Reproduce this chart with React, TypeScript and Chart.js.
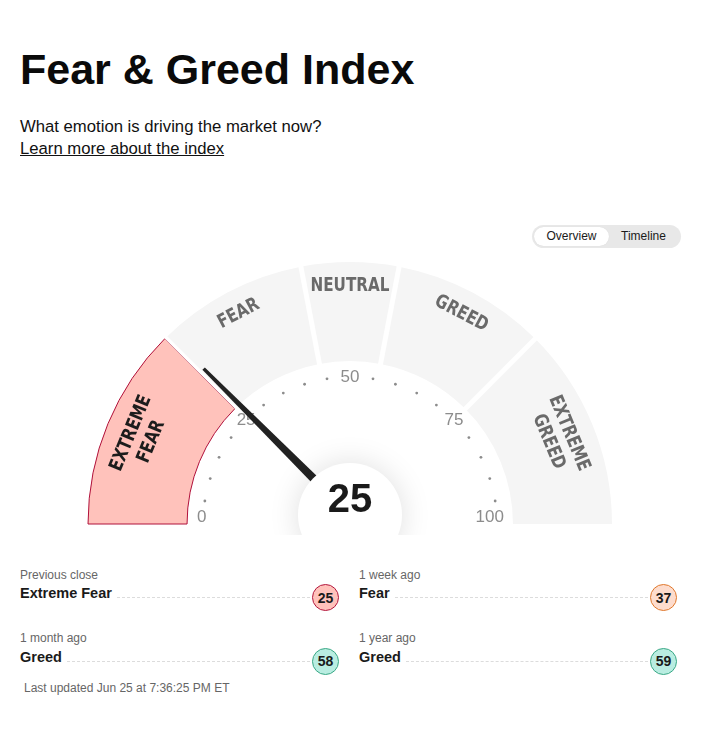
import React, { useEffect, useRef } from 'react';
import { Chart, registerables } from 'chart.js';

Chart.register(...registerables);

// ---- data ----
const ZONE_LABELS = ['EXTREME FEAR', 'FEAR', 'NEUTRAL', 'GREED', 'EXTREME GREED'];
const ZONE_SIZES = [25, 19, 12, 19, 25];
const CURRENT_VALUE = 25;
const TICK_LABELS = [0, 25, 50, 75, 100];
const TICK_DOTS = [5, 10, 15, 20, 30, 35, 40, 45, 55, 60, 65, 70, 80, 85, 90, 95];

const HISTORY_PERIODS = ['Previous close', '1 week ago', '1 month ago', '1 year ago'];
const HISTORY_RATINGS = ['Extreme Fear', 'Fear', 'Greed', 'Greed'];
const HISTORY_VALUES = [25, 37, 58, 59];
const LAST_UPDATED = 'Last updated Jun 25 at 7:36:25 PM ET';

const RATING_STYLES: Record<string, { fill: string; border: string }> = {
  'Extreme Fear': { fill: '#ffc2bb', border: '#b3173d' },
  Fear: { fill: '#fddccd', border: '#e0782c' },
  Neutral: { fill: '#e5e5e5', border: '#999999' },
  Greed: { fill: '#b9ede1', border: '#3aa886' },
  'Extreme Greed': { fill: '#8fdcc9', border: '#1f8a6a' },
};

function zoneOf(v: number): number {
  let acc = 0;
  for (let i = 0; i < ZONE_SIZES.length; i++) {
    acc += ZONE_SIZES[i];
    if (v <= acc) return i;
  }
  return ZONE_SIZES.length - 1;
}

const FONT = '"Liberation Sans", Arial, Helvetica, sans-serif';

const gaugePlugin = {
  id: 'fgGauge',
  afterDatasetsDraw(chart: any) {
    const ctx: CanvasRenderingContext2D = chart.ctx;
    const arcs = chart.getDatasetMeta(0).data;
    if (!arcs.length) return;
    const zone = zoneOf(CURRENT_VALUE);
    const cx = arcs[0].x;
    const cy = arcs[0].y;
    const R = arcs[0].outerRadius;
    const r0 = arcs[0].innerRadius;
    const toAng = (v: number) => Math.PI + (v / 100) * Math.PI;

    // white gaps between zones
    for (let i = 0; i < arcs.length - 1; i++) {
      const a = arcs[i].endAngle;
      let from = -2.5;
      let to = 2.5;
      if (i === zone) { from = 0.5; to = 3.5; }
      if (i + 1 === zone) { from = -3.5; to = -0.5; }
      ctx.save();
      ctx.translate(cx, cy);
      ctx.rotate(a);
      ctx.fillStyle = '#ffffff';
      ctx.fillRect(r0 - 2, from, R - r0 + 4, to - from);
      ctx.restore();
    }

    // zone labels
    arcs.forEach((arc: any, i: number) => {
      const mid = (arc.startAngle + arc.endAngle) / 2;
      const words = ZONE_LABELS[i].split(' ');
      const rc = words.length > 1 ? R - 36 : R - 24;
      ctx.save();
      ctx.translate(cx + rc * Math.cos(mid), cy + rc * Math.sin(mid));
      ctx.rotate(mid + Math.PI / 2);
      ctx.scale(0.8, 1);
      ctx.font = 'bold 19px "DejaVu Sans", sans-serif';
      ctx.textAlign = 'center';
      ctx.textBaseline = 'middle';
      ctx.fillStyle = i === zone ? '#1c1c1c' : '#6a6a6a';
      words.forEach((w, k) => ctx.fillText(w, 0, (k - (words.length - 1) / 2) * 22));
      ctx.restore();
    });

    // scale dots and labels
    const rt = r0 - 16;
    ctx.fillStyle = '#8c8c8c';
    TICK_DOTS.forEach((v) => {
      const a = toAng(v);
      ctx.beginPath();
      ctx.arc(cx + rt * Math.cos(a), cy + rt * Math.sin(a), 1.4, 0, Math.PI * 2);
      ctx.fill();
    });
    ctx.font = '17px ' + FONT;
    ctx.fillStyle = '#8c8c8c';
    TICK_LABELS.forEach((v, idx) => {
      const a = toAng(v);
      if (idx === 0) {
        ctx.textAlign = 'left';
        ctx.textBaseline = 'alphabetic';
        ctx.fillText(String(v), cx - rt - 6, cy - 2);
      } else if (idx === TICK_LABELS.length - 1) {
        ctx.textAlign = 'right';
        ctx.textBaseline = 'alphabetic';
        ctx.fillText(String(v), cx + rt + 7, cy - 2);
      } else {
        ctx.textAlign = 'center';
        ctx.textBaseline = 'middle';
        ctx.fillText(String(v), cx + rt * Math.cos(a), cy + rt * Math.sin(a));
      }
    });

    // needle
    const px = cx;
    const py = cy - 9;
    const na = toAng(CURRENT_VALUE);
    const len = 207;
    ctx.save();
    ctx.translate(px, py);
    ctx.rotate(na);
    ctx.beginPath();
    ctx.moveTo(0, -5);
    ctx.lineTo(len, -1.75);
    ctx.lineTo(len, 1.75);
    ctx.lineTo(0, 5);
    ctx.closePath();
    ctx.fillStyle = '#222222';
    ctx.fill();
    ctx.restore();

    // center disc
    ctx.save();
    ctx.beginPath();
    ctx.rect(0, 0, chart.width, cy + 11);
    ctx.clip();
    ctx.shadowColor = 'rgba(0,0,0,0.13)';
    ctx.shadowBlur = 30;
    ctx.beginPath();
    ctx.arc(px, py, 52, 0, Math.PI * 2);
    ctx.fillStyle = '#ffffff';
    ctx.fill();
    ctx.restore();

    ctx.save();
    ctx.font = 'bold 40px ' + FONT;
    ctx.textAlign = 'center';
    ctx.textBaseline = 'alphabetic';
    ctx.fillStyle = '#1a1a1a';
    ctx.fillText(String(CURRENT_VALUE), cx, cy - 12);
    ctx.restore();
  },
};

function Gauge() {
  const ref = useRef<HTMLCanvasElement | null>(null);
  useEffect(() => {
    if (!ref.current) return;
    const zone = zoneOf(CURRENT_VALUE);
    const chart = new Chart(ref.current, {
      type: 'doughnut',
      data: {
        labels: ZONE_LABELS,
        datasets: [
          {
            data: ZONE_SIZES,
            backgroundColor: ZONE_SIZES.map((_, i) => (i === zone ? '#ffc2bb' : '#f5f5f5')),
            borderColor: ZONE_SIZES.map((_, i) => (i === zone ? '#b0103a' : '#ffffff')),
            borderWidth: ZONE_SIZES.map((_, i) => (i === zone ? 1 : 0)),
            borderJoinStyle: 'miter',
          } as any,
        ],
      },
      options: {
        responsive: false,
        animation: false,
        events: [],
        rotation: -90,
        circumference: 180,
        radius: 262,
        cutout: '62.2%',
        layout: { padding: { top: 41, left: 0, right: 6, bottom: 0 } },
        plugins: { legend: { display: false }, tooltip: { enabled: false }, title: { display: false } },
      } as any,
      plugins: [gaugePlugin],
    });
    return () => chart.destroy();
  }, []);
  return (
    <canvas
      ref={ref}
      width={706}
      height={345}
      style={{ position: 'absolute', left: 0, top: 200, width: 706, height: 345 }}
    />
  );
}

function Stat({ idx }: { idx: number }) {
  const col = idx % 2;
  const row = Math.floor(idx / 2);
  const x = col === 0 ? 20 : 359;
  const w = col === 0 ? 319 : 318;
  const labelCy = row === 0 ? 575 : 637.7;
  const circCy = row === 0 ? 597.7 : 661;
  const rating = HISTORY_RATINGS[idx];
  const st = RATING_STYLES[rating];
  return (
    <>
      <div
        style={{
          position: 'absolute', left: x, top: labelCy - 7, fontSize: 12, lineHeight: '14px',
          color: '#666', fontFamily: FONT, whiteSpace: 'nowrap',
        }}
      >
        {HISTORY_PERIODS[idx]}
      </div>
      <div
        style={{
          position: 'absolute', left: x, top: circCy - 13.5, width: w, height: 27,
          display: 'flex', fontFamily: FONT,
        }}
      >
        <span style={{ alignSelf: 'flex-start', fontWeight: 'bold', fontSize: 14.5, lineHeight: '18px', color: '#1a1a1a', whiteSpace: 'nowrap' }}>
          {rating}
        </span>
        <div style={{ flex: 1, alignSelf: 'center', height: 0, borderTop: '1px dashed #dcdcdc', margin: '0 2px 0 5px' }} />
        <div
          style={{
            width: 27, height: 27, boxSizing: 'border-box', borderRadius: '50%',
            background: st.fill, border: '1px solid ' + st.border,
            display: 'flex', alignItems: 'center', justifyContent: 'center',
            fontWeight: 'bold', fontSize: 14, color: '#1a1a1a',
          }}
        >
          {HISTORY_VALUES[idx]}
        </div>
      </div>
    </>
  );
}

export default function App() {
  return (
    <div
      style={{
        position: 'absolute', left: 0, top: 0, width: 706, height: 732, overflow: 'hidden',
        background: '#fff', fontFamily: FONT,
      }}
    >
      <div style={{ position: 'absolute', left: 20, top: 44, fontSize: 43, lineHeight: '50px', fontWeight: 'bold', color: '#0a0a0a', whiteSpace: 'nowrap' }}>
        Fear &amp; Greed Index
      </div>
      <div style={{ position: 'absolute', left: 20, top: 116.5, fontSize: 16.7, lineHeight: '20px', color: '#111', whiteSpace: 'nowrap' }}>
        What emotion is driving the market now?
      </div>
      <div style={{ position: 'absolute', left: 20, top: 138.5, fontSize: 16.7, lineHeight: '20px', color: '#111', textDecoration: 'underline', whiteSpace: 'nowrap' }}>
        Learn more about the index
      </div>

      <div style={{ position: 'absolute', left: 532, top: 225, width: 149, height: 23, borderRadius: 12, background: '#e8e8e8' }} />
      <div style={{ position: 'absolute', left: 534, top: 227, width: 75, height: 19, borderRadius: 10, background: '#fff', boxShadow: '0 0 1px rgba(0,0,0,0.1)' }} />
      <div style={{ position: 'absolute', left: 534, top: 227, width: 75, height: 19, lineHeight: '19px', fontSize: 12, textAlign: 'center', color: '#1a1a1a' }}>
        Overview
      </div>
      <div style={{ position: 'absolute', left: 608, top: 227, width: 71, height: 19, lineHeight: '19px', fontSize: 12, textAlign: 'center', color: '#1a1a1a' }}>
        Timeline
      </div>

      <Gauge />

      {HISTORY_PERIODS.map((_, i) => (
        <Stat key={i} idx={i} />
      ))}

      <div style={{ position: 'absolute', left: 24, top: 680.5, fontSize: 12, lineHeight: '14px', color: '#666', whiteSpace: 'nowrap' }}>
        {LAST_UPDATED}
      </div>
    </div>
  );
}
